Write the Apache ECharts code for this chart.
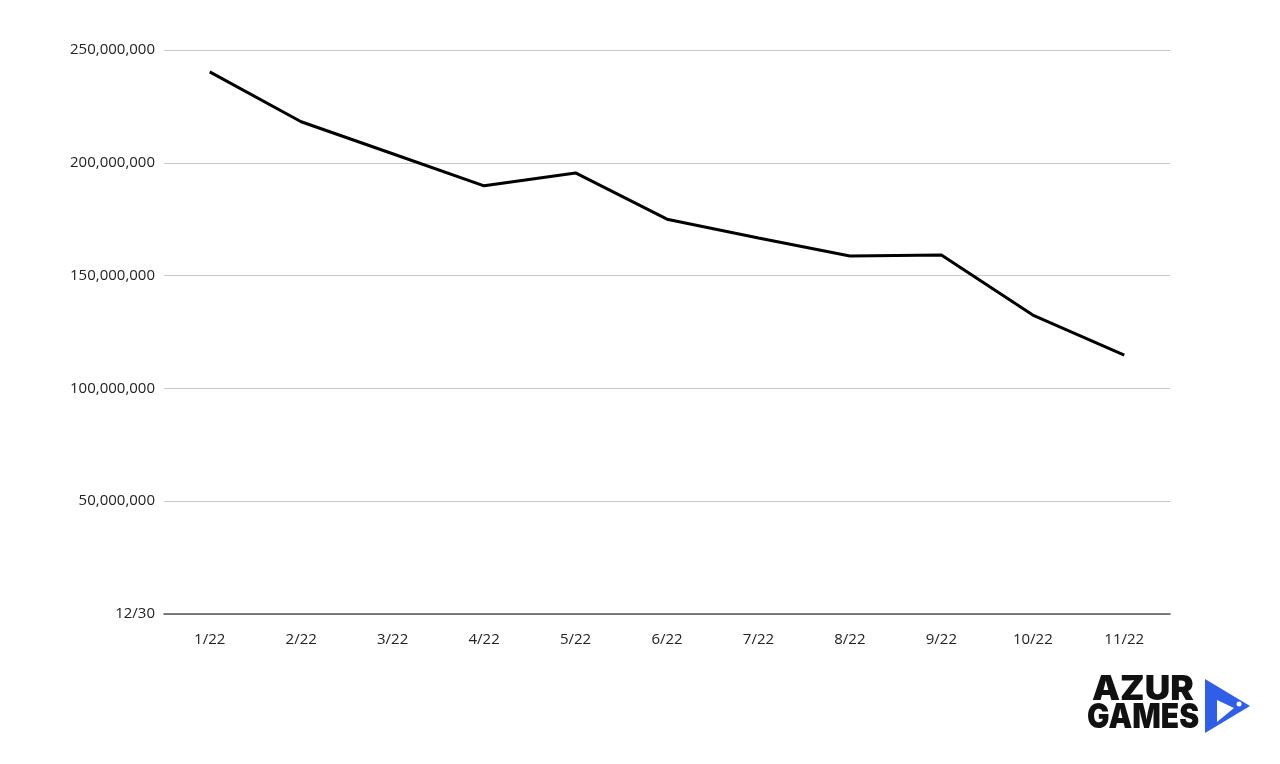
<!DOCTYPE html>
<html><head><meta charset="utf-8">
<style>html,body{margin:0;padding:0;background:#fff}#c{width:1280px;height:764px}</style>
<script src="https://cdn.jsdelivr.net/npm/echarts@6/dist/echarts.min.js"></script>
</head><body><div id="c"></div>
<script>
const categories = ['1/22','2/22','3/22','4/22','5/22','6/22','7/22','8/22','9/22','10/22','11/22'];
const values = [240300000, 218200000, 204000000, 189800000, 195500000, 175000000, 166700000, 158700000, 159100000, 132500000, 114800000];
const yTicks = [0, 50000000, 100000000, 150000000, 200000000, 250000000];
const zeroLabel = '12/30';

const chart = echarts.init(document.getElementById('c'));
const fmt = v => v === 0 ? zeroLabel : v.toLocaleString('en-US');
chart.setOption({
  animation: false,
  grid: {left: 164, right: 110, top: 50, bottom: 150},
  xAxis: {
    type: 'category', data: categories, boundaryGap: true,
    axisLine: {lineStyle: {color: '#555', width: 1.5}},
    axisTick: {show: false},
    axisLabel: {color: '#222', fontSize: 15, fontFamily: 'Open Sans', margin: 18}
  },
  yAxis: {
    type: 'value', min: yTicks[0], max: yTicks[yTicks.length-1], interval: 50000000,
    axisLine: {show: false}, axisTick: {show: false},
    splitLine: {lineStyle: {color: '#c8c8c8', width: 1}},
    axisLabel: {color: '#222', fontSize: 15, fontFamily: 'Open Sans', margin: 9, formatter: fmt}
  },
  series: [{
    type: 'line', data: values, symbol: 'none',
    lineStyle: {color: '#000', width: 3}
  }],
  graphic: [
    {type: 'text', x: 1092, y: 673, scaleX: 1.04, style: {text: 'AZUR', font: '900 34px Inter', fill: '#111'}},
    {type: 'text', x: 1087, y: 701, scaleX: 0.88, style: {text: 'GAMES', font: '900 34px Inter', fill: '#111'}},
    {type: 'polygon', shape: {points: [[1205,679],[1250,706],[1205,733]]}, style: {fill: '#2f5fe8'}},
    {type: 'polygon', shape: {points: [[1217,700],[1234,708],[1217,722]]}, style: {fill: '#fff'}},
    {type: 'circle', shape: {cx: 1239, cy: 704, r: 2.5}, style: {fill: '#fff'}}
  ]
});
</script></body></html>
